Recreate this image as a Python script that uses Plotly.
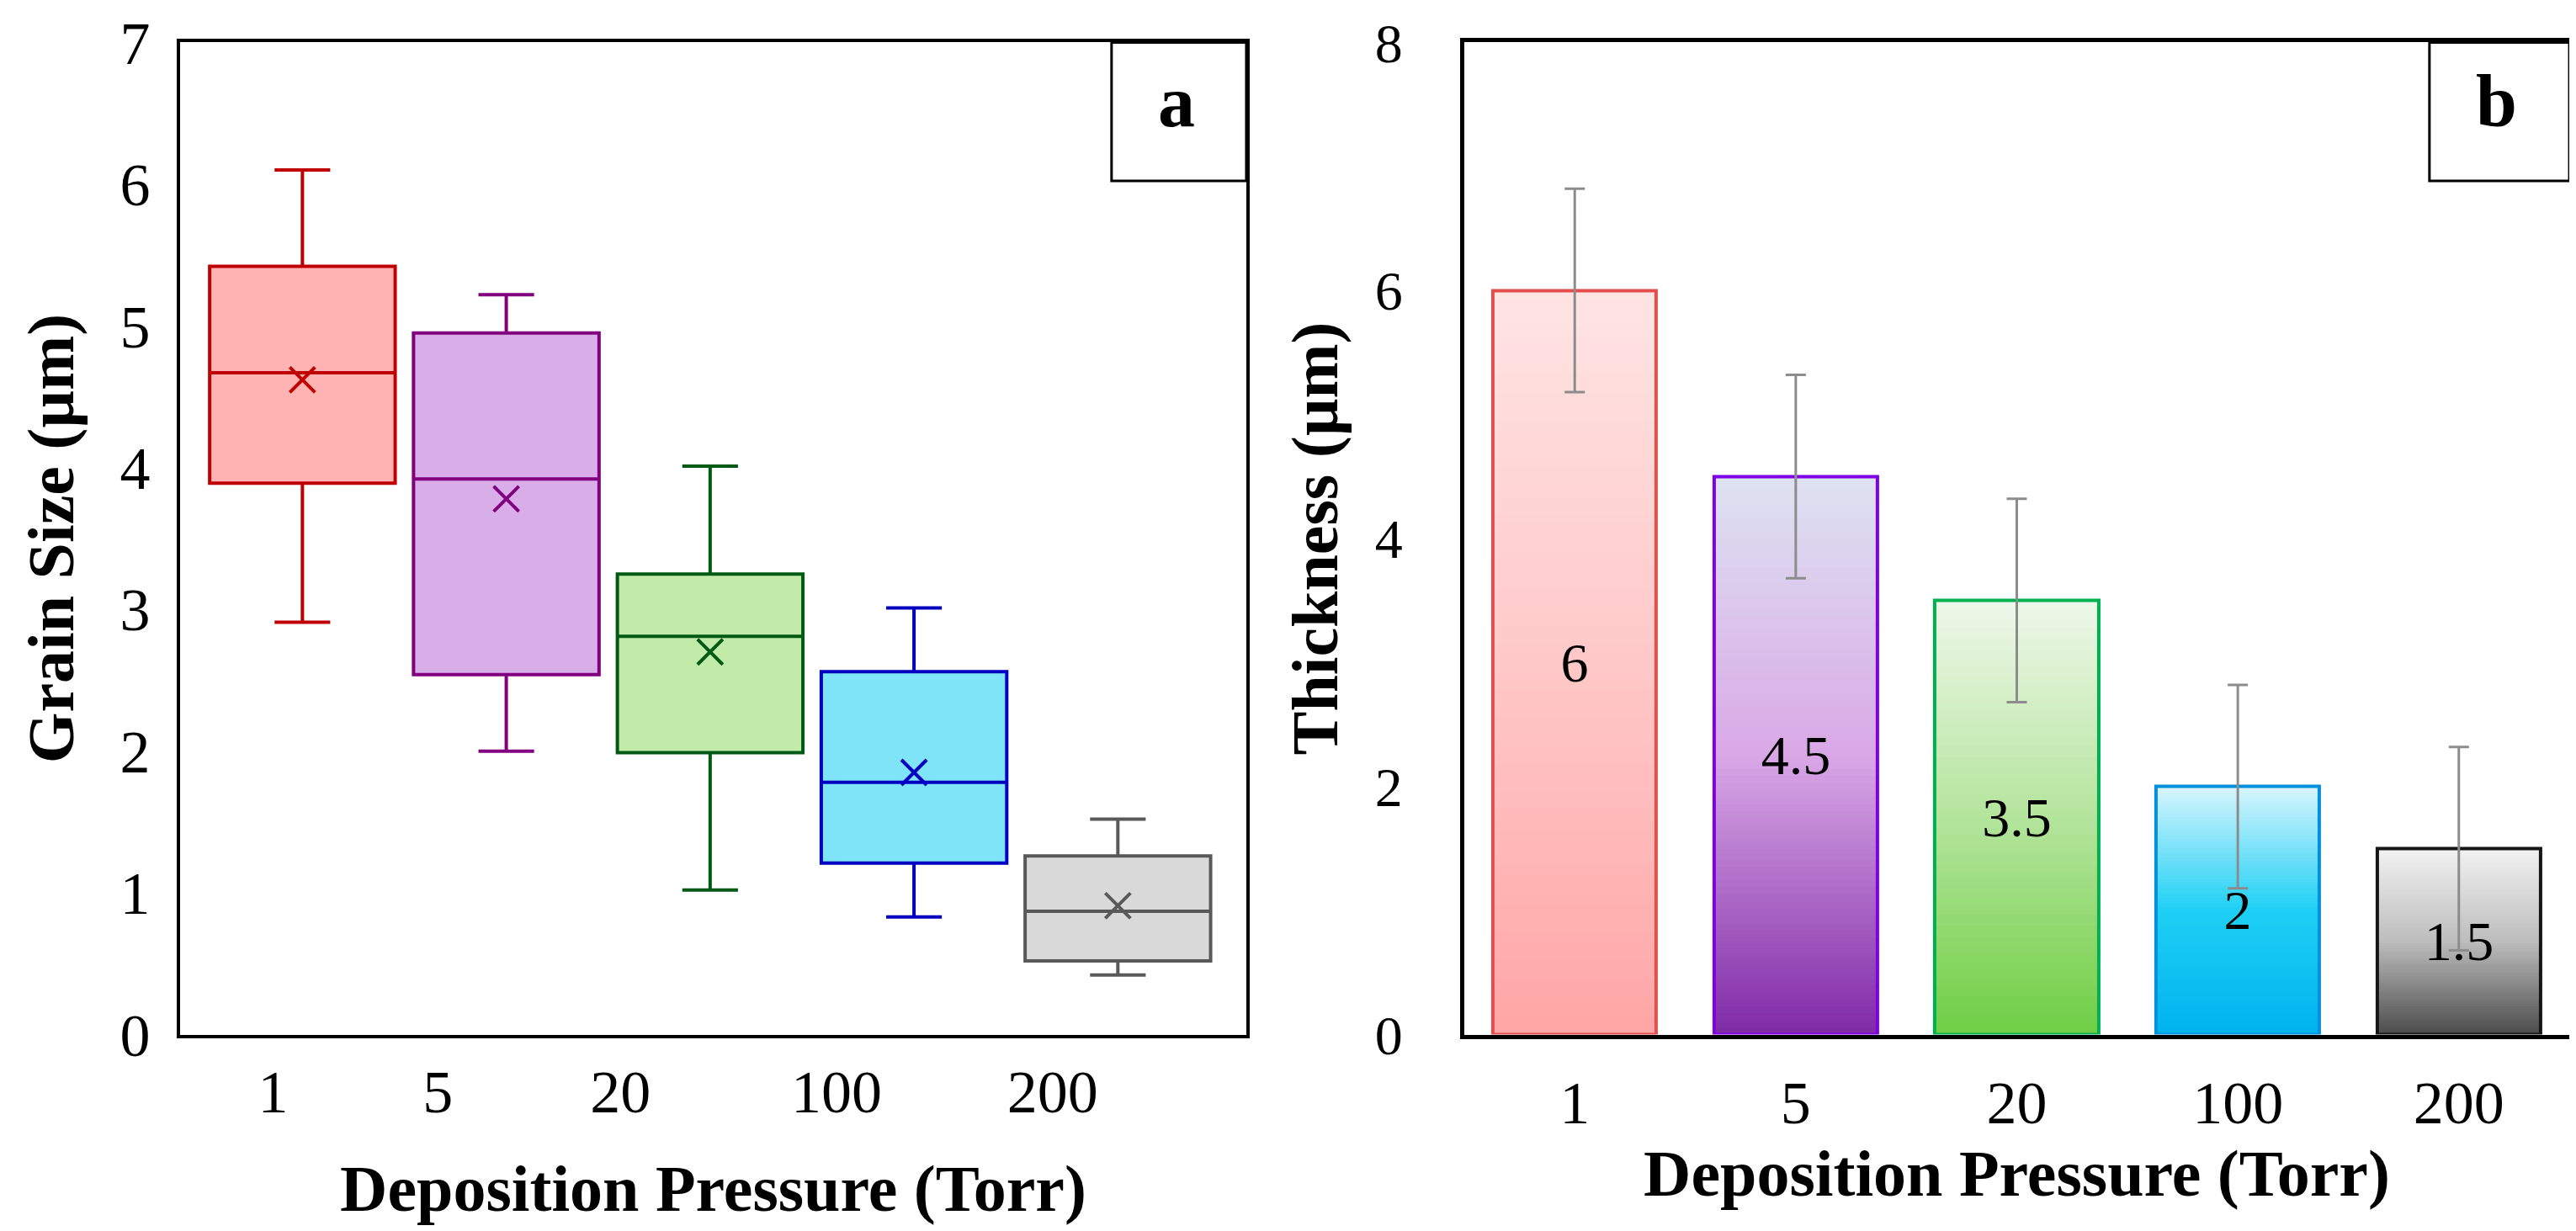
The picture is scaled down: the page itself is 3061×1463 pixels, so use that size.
import plotly.graph_objects as go

# ---------------- data ----------------
pressures = ["1", "5", "20", "100", "200"]

# panel a: grain size box statistics (µm)
gs_upper = [6.10, 5.22, 4.01, 3.01, 1.52]
gs_q3 = [5.42, 4.95, 3.25, 2.56, 1.26]
gs_median = [4.67, 3.92, 2.81, 1.78, 0.87]
gs_mean = [4.62, 3.78, 2.70, 1.85, 0.91]
gs_q1 = [3.89, 2.54, 1.99, 1.21, 0.52]
gs_lower = [2.91, 2.00, 1.02, 0.83, 0.42]

# panel b: thickness (µm)
thickness = [6, 4.5, 3.5, 2, 1.5]
thickness_err = [0.82, 0.82, 0.82, 0.82, 0.82]
thickness_labels = ["6", "4.5", "3.5", "2", "1.5"]

# ---------------- styles ----------------
FONT = "Liberation Serif"
W, H = 3061, 1463
box_fill = ["#FFB3B3", "#D9AEE8", "#C2EAA8", "#80E4F8", "#D9D9D9"]
box_line = ["#C00000", "#800080", "#005A14", "#0000C0", "#595959"]

bar_stops = [
    ["#FFE4E4", "#FFC8C8", "#FFA6A6"],
    ["#DDE3F1", "#D9A8E6", "#7F2AA6"],
    ["#EFF8EB", "#B4E49C", "#6FCF45"],
    ["#D8F5FD", "#1ED0F4", "#00B2EE"],
    ["#F2F2F2", "#BDBDBD", "#4C4C4C"],
]
bar_border = ["#E2504E", "#7F00E8", "#00B050", "#0090DC", "#151515"]


def hex2rgb(h):
    h = h.lstrip("#")
    return [int(h[i:i + 2], 16) for i in (0, 2, 4)]


def interp(stops, t):
    n = len(stops) - 1
    pos = min(max(t, 0), 1) * n
    i = min(int(pos), n - 1)
    f = pos - i
    a, b = hex2rgb(stops[i]), hex2rgb(stops[i + 1])
    c = [round(a[j] + (b[j] - a[j]) * f) for j in range(3)]
    return "rgb(%d,%d,%d)" % tuple(c)


fig = go.Figure()

# ---------------- panel a: box plots ----------------
idx = list(range(len(pressures)))
for i in idx:
    fig.add_trace(go.Box(
        x=[i], q1=[gs_q1[i]], median=[gs_median[i]], q3=[gs_q3[i]],
        lowerfence=[gs_lower[i]], upperfence=[gs_upper[i]],
        fillcolor=box_fill[i], line=dict(color=box_line[i], width=4),
        width=0.91, whiskerwidth=0.3, boxpoints=False,
        showlegend=False, xaxis="x", yaxis="y", hoverinfo="skip"))

fig.add_trace(go.Scatter(
    x=idx, y=gs_mean, mode="markers", showlegend=False,
    marker=dict(symbol="x-thin", size=30, color=box_line,
                line=dict(width=4, color=box_line)),
    xaxis="x", yaxis="y", hoverinfo="skip"))

# ---------------- panel b: gradient bars ----------------
N = 80
for k in range(N):
    f = (k + 0.5) / N
    fig.add_trace(go.Bar(
        x=pressures, y=[v / N * 1.01 for v in thickness],
        base=[v * k / N for v in thickness],
        marker=dict(color=[interp(bar_stops[i], 1 - f) for i in idx],
                    line=dict(width=0)),
        width=0.74, showlegend=False, xaxis="x2", yaxis="y2",
        hoverinfo="skip"))

fig.add_trace(go.Bar(
    x=pressures, y=thickness,
    marker=dict(color="rgba(0,0,0,0)",
                line=dict(color=bar_border, width=4)),
    width=0.74, showlegend=False, xaxis="x2", yaxis="y2",
    text=thickness_labels, textposition="inside", insidetextanchor="middle",
    textangle=0, textfont=dict(family=FONT, size=66, color="black"),
    error_y=dict(type="data", array=thickness_err, color="#8C8C8C",
                 thickness=3, width=12),
    cliponaxis=False))

# ---------------- layout ----------------
tick_pos_a = [-0.144, 0.664, 1.56, 2.62, 3.68]
ydom = [0.165, 0.971]

axis_common = dict(showgrid=False, zeroline=False, ticks="", showline=True,
                   mirror=True, linecolor="black", automargin=False,
                   tickfont=dict(family=FONT, size=72, color="black"))
title_font = dict(family=FONT, size=78, color="black")

fig.update_layout(
    width=W, height=H, margin=dict(l=0, r=0, t=0, b=0),
    paper_bgcolor="white", plot_bgcolor="white",
    barmode="overlay", boxmode="overlay", bargap=0,
    font=dict(family=FONT, color="black"),
    xaxis=dict(axis_common, domain=[0.0673, 0.4812], range=[-0.6, 4.63],
               anchor="y",
               tickmode="array", tickvals=tick_pos_a, ticktext=pressures,
               linewidth=4, ticklabelstandoff=2,
               title=dict(text="<b>Deposition Pressure (Torr)</b>",
                          font=title_font, standoff=48)),
    yaxis=dict(axis_common, domain=ydom, range=[0, 7], dtick=1,
               anchor="x", linewidth=4, ticklabelstandoff=17,
               title=dict(text="<b>Grain Size (µm)</b>", font=title_font,
                          standoff=30)),
    xaxis2=dict(axis_common, domain=[0.5658, 0.9948], type="category",
                anchor="y2",
                range=[-0.5, 4.5], linewidth=5, ticklabelstandoff=14,
                title=dict(text="<b>Deposition Pressure (Torr)</b>",
                           font=title_font, standoff=10)),
    yaxis2=dict(axis_common, domain=ydom, range=[0, 8], dtick=2,
                anchor="x2",
                linewidth=5, ticklabelstandoff=55,
                tickfont=dict(family=FONT, size=66, color="black"),
                title=dict(text="<b>Thickness (µm)</b>", font=title_font,
                           standoff=20)),
)

# panel letter boxes (paper coordinates)
for x0, x1, letter in [(0.4289, 0.4812, "a"), (0.9405, 0.9948, "b")]:
    fig.add_shape(type="rect", xref="paper", yref="paper", x0=x0, x1=x1,
                  y0=0.8585, y1=0.971,
                  line=dict(color="black", width=3), fillcolor="white")
    fig.add_annotation(xref="paper", yref="paper", x=(x0 + x1) / 2 - 0.001,
                       y=0.923, xanchor="center", yanchor="middle",
                       text="<b>%s</b>" % letter, showarrow=False,
                       font=dict(family=FONT, size=88, color="black"))

fig.write_html("out.html")
